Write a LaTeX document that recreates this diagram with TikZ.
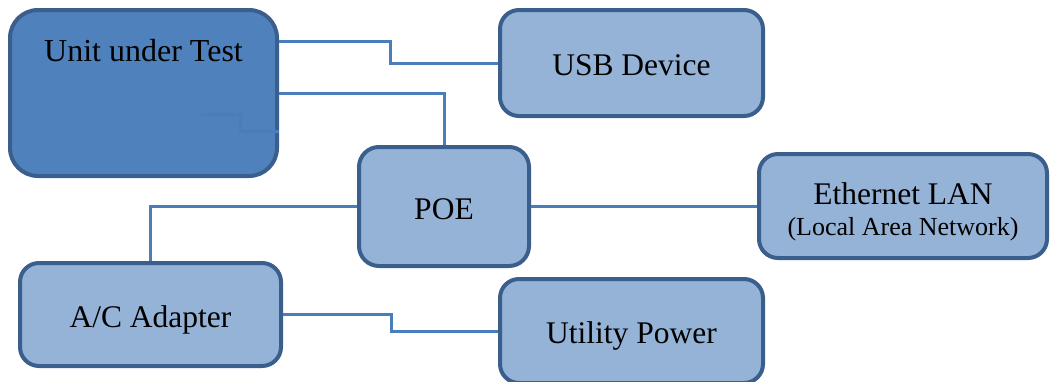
\documentclass[tikz,border=0pt]{standalone}
\usepackage{fontspec}
\setmainfont{Liberation Serif}
\definecolor{boxline}{HTML}{3A5F8D}
\definecolor{boxfill}{HTML}{95B3D7}
\definecolor{uutfill}{HTML}{4F81BD}
\definecolor{wire}{HTML}{4A7EBB}
\begin{document}
\begin{tikzpicture}[x=1pt,y=-1pt,
    unit/.style={draw=boxline,line width=4pt,fill=boxfill,rounded corners=19pt,
                 align=center,inner sep=0pt,text height=25pt,text depth=0pt,
                 font=\fontsize{31.5}{36}\selectfont},
    link/.style={draw=wire,line width=3pt}]
    % page size of the reference
    \useasboundingbox (0,0) rectangle (1050,381);

    % Boxes:
    \node [unit,fill=uutfill,rounded corners=28pt,minimum width=267pt,minimum height=166pt] (uut) at (143.5,93) {};
    \node [font=\fontsize{32}{36}\selectfont] (uutlabel) at (143.5,51) {Unit under Test};
    \node [unit,minimum width=263pt,minimum height=106pt] (usb) at (631.5,63) {USB Device};
    \node [unit,rounded corners=20pt,minimum width=170pt,minimum height=119pt] (poe) at (444,206.5) {POE};
    \node [unit,text height=58pt,minimum width=288pt,minimum height=104pt] (lan) at (903,206)
          {Ethernet LAN\\[-5pt]{\fontsize{26}{30}\selectfont (Local Area Network)}};
    \node [unit,minimum width=261pt,minimum height=103pt] (adapter) at (150.5,314.5) {A/C Adapter};
    \node [unit,minimum width=263pt,minimum height=104pt] (utility) at (631.5,331) {Utility Power};

    % Wires:
    \draw [link] (uut.east |- 0,41) -- (390,41) |- (usb.west);
    \draw [link] (uut.east) -| (poe.north);
    \coordinate (stub) at (201,114);
    \draw [link] (stub) -- (240,114) |- (uut.east |- 0,131);
    \draw [link] (poe.west) -| (adapter.north);
    \draw [link] (poe.east) -- (poe.east -| lan.west);
    \draw [link] (adapter.east) -- (391,314.5) |- (utility.west);
\end{tikzpicture}
\end{document}
